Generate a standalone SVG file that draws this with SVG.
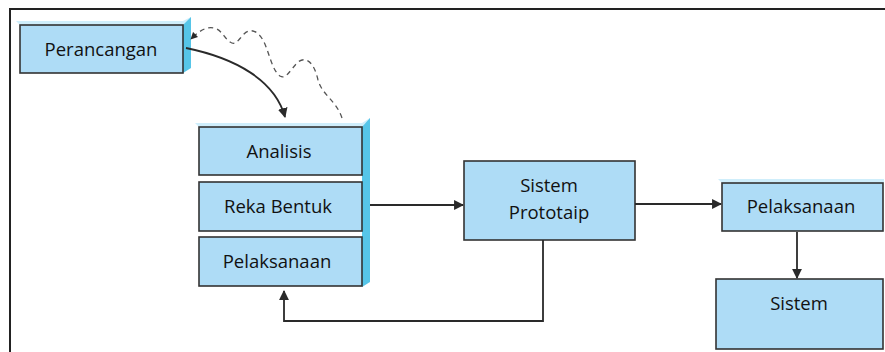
<svg xmlns="http://www.w3.org/2000/svg" width="885" height="352" viewBox="0 0 885 352">
<defs>
<style>
.box{fill:#aedcf6;stroke:#333;stroke-width:1.6}
.side{fill:#56c5e8}
.glow{fill:#cfeefb}
.lbl{font-family:"Open Sans","Noto Sans",sans-serif;font-size:18.5px;fill:#111;text-anchor:middle}
.con{fill:none;stroke:#2a2a2a;stroke-width:1.8}
.dash{fill:none;stroke:#555;stroke-width:1.3;stroke-dasharray:5 4}
</style>
<marker id="ah" viewBox="0 0 10 10" refX="9" refY="5" markerWidth="5.5" markerHeight="5.5" orient="auto-start-reverse"><path d="M0,0 L10,5 L0,10 z" fill="#2a2a2a"/></marker>
</defs>
<rect x="0" y="0" width="885" height="352" fill="#fff"/>
<path d="M10,352 V9 H885" fill="none" stroke="#222" stroke-width="2"/>

<g id="perancangan">
<polygon class="glow" points="16,21 183,21 191,17 191,25 20,25"/>
<polygon class="side" points="183,25 191,17 191,68 183,73"/>
<rect class="box" x="20" y="25" width="163" height="48"/>
<text class="lbl" x="101" y="56">Perancangan</text>
</g>

<g id="stack">
<polygon class="glow" points="195,123 362,123 370,118 370,127 199,127"/>
<polygon class="side" points="362,127 370,118 370,282 362,287"/>
<g id="analisis">
<rect class="box" x="199" y="127" width="163" height="48"/>
<text class="lbl" x="279" y="158">Analisis</text>
</g>
<g id="rekabentuk">
<rect class="box" x="199" y="182" width="163" height="49"/>
<text class="lbl" x="278" y="213">Reka Bentuk</text>
</g>
<g id="pelaksanaan1">
<rect class="box" x="199" y="237" width="163" height="49"/>
<text class="lbl" x="277" y="268">Pelaksanaan</text>
</g>
</g>

<g id="prototaip">
<rect class="box" x="464" y="161" width="171" height="79"/>
<text class="lbl" x="549" y="192">Sistem</text>
<text class="lbl" x="549" y="219">Prototaip</text>
</g>

<g id="pelaksanaan2">
<polygon class="glow" points="718,179 884,179 884,183 722,183"/>
<rect class="box" x="722" y="183" width="161" height="48"/>
<text class="lbl" x="801" y="213">Pelaksanaan</text>
</g>

<g id="sistem">
<rect class="box" x="716" y="279" width="167" height="70"/>
<text class="lbl" x="799" y="310">Sistem</text>
</g>

<g id="connectors">
<path class="con" d="M186,48 C235,58 275,80 285,117" marker-end="url(#ah)"/>
<path class="dash" d="M342,118 C336,100 322,95 318,80 C314,62 306,56 298,62 C290,70 286,80 280,76 C272,70 270,55 264,42 C258,30 250,28 244,34 C238,40 236,46 230,42 C224,38 222,30 214,28 C206,26 198,32 191,39" marker-end="url(#ah)"/>
<path class="con" d="M370,205 H463" marker-end="url(#ah)"/>
<path class="con" d="M635,204 H721" marker-end="url(#ah)"/>
<path class="con" d="M797,232 V278" marker-end="url(#ah)"/>
<path class="con" d="M543,240 V321 H284 V291" marker-end="url(#ah)"/>
</g>
</svg>
